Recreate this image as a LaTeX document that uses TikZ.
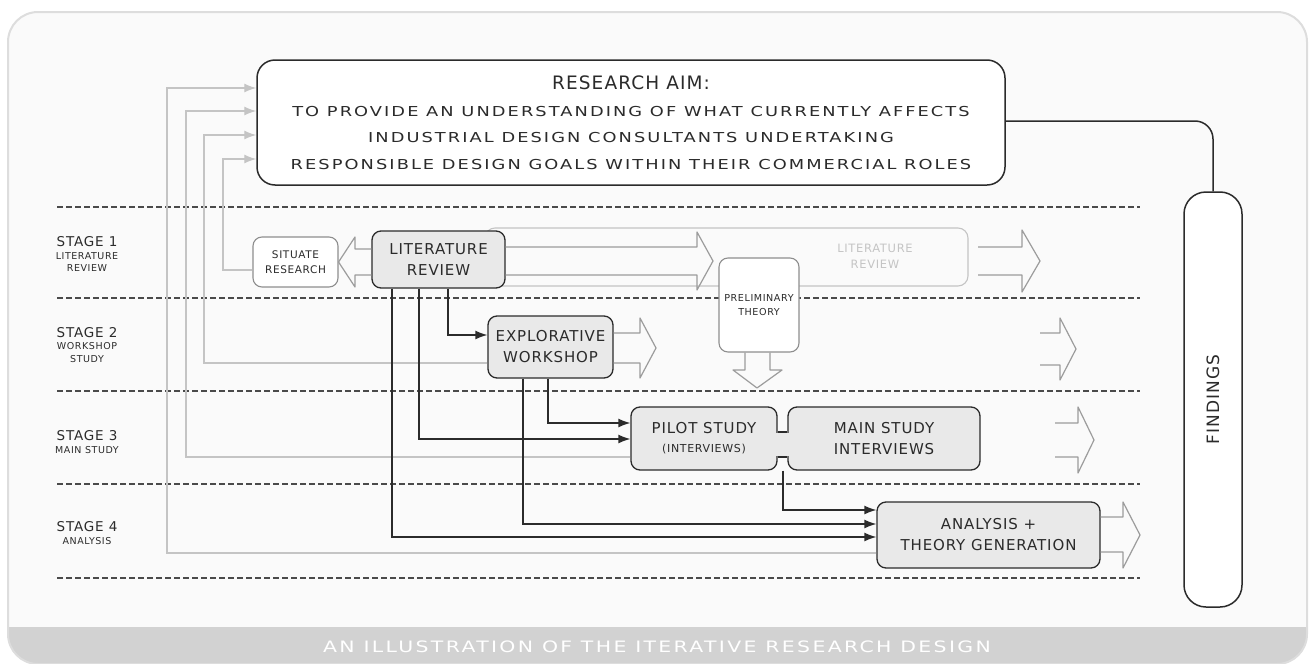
\documentclass[tikz,border=0pt]{standalone}
\usepackage{fontspec}
\newfontfamily\hand{DejaVu Sans}[LetterSpace=6]
\newfontfamily\handwide{DejaVu Sans}[FakeStretch=1.3,LetterSpace=15]
\usetikzlibrary{arrows.meta,positioning}
\definecolor{ink}{HTML}{2B2B2B}
\definecolor{boxgray}{HTML}{E9E9E9}
\definecolor{softline}{HTML}{8E8E8E}
\definecolor{fbgray}{HTML}{C4C4C4}
\definecolor{arrowgray}{HTML}{9C9C9C}
\definecolor{faint}{HTML}{C4C4C4}
\definecolor{sepgray}{HTML}{4A4A4A}
\definecolor{framefill}{HTML}{FAFAFA}
\definecolor{frameline}{HTML}{DDDDDD}
\definecolor{band}{HTML}{D2D2D2}
\newcommand\titlefont{\hand\fontsize{18.5}{26.5}\selectfont}
\newcommand\subfont{\hand\fontsize{9.5}{12}\selectfont}

\begin{document}
\begin{tikzpicture}[x=1pt,y=-1pt,
  box/.style={draw=ink,line width=1.3pt,rounded corners=9pt,fill=boxgray,align=center,text=ink,inner sep=0pt,font=\hand\fontsize{15}{21}\selectfont},
  softbox/.style={draw=softline,line width=1.1pt,rounded corners=9pt,fill=white,align=center,text=ink,inner sep=0pt,font=\hand\fontsize{10.5}{15}\selectfont},
  bigbox/.style={draw=ink,line width=1.5pt,fill=white,align=center,text=ink,inner sep=0pt},
  stagelabel/.style={align=center,text=ink,font=\hand\fontsize{13.5}{12.5}\selectfont},
  link/.style={-{Latex[length=12pt,width=9pt]},draw=ink,line width=1.3pt},
  feedback/.style={-{Latex[length=12pt,width=9pt]},draw=fbgray,line width=1.3pt},
  hollow/.style={draw=arrowgray,line width=1.2pt,line join=round},
  sep/.style={draw=sepgray,line width=1.2pt,dash pattern=on 6pt off 3pt}
]
\useasboundingbox (0,0) rectangle (1315,664);

% frame and caption band
\path[fill=framefill,rounded corners=30pt] (8,12) rectangle (1307,664);
\begin{scope}
  \clip[rounded corners=30pt] (8,12) rectangle (1307,664);
  \fill[band] (0,627) rectangle (1315,664);
\end{scope}
\draw[frameline,line width=2pt,rounded corners=30pt] (8,12) rectangle (1307,664);
\node[text=white,font=\handwide\fontsize{15.7}{17}\selectfont] (caption) at (657,647) {AN ILLUSTRATION OF THE ITERATIVE RESEARCH DESIGN};

% stage separators
\foreach \y in {207,298,391,484,578}
  \draw[sep] (57,\y) -- (1140,\y);

% stage labels
\node[stagelabel] (stage1) at (87,254) {STAGE 1\\\subfont LITERATURE\\\subfont REVIEW};
\node[stagelabel] (stage2) at (87,345) {STAGE 2\\\subfont WORKSHOP\\\subfont STUDY};
\node[stagelabel] (stage3) at (87,442) {STAGE 3\\\subfont MAIN STUDY};
\node[stagelabel] (stage4) at (87,533) {STAGE 4\\\subfont ANALYSIS};

% research aim and findings
\node[bigbox,rounded corners=18pt,minimum width=748pt,minimum height=125pt,font=\handwide\fontsize{13.7}{26.5}\selectfont] (aim) at (631,122.5)
  {\titlefont RESEARCH AIM:\\TO PROVIDE AN UNDERSTANDING OF WHAT CURRENTLY AFFECTS\\INDUSTRIAL DESIGN CONSULTANTS UNDERTAKING\\RESPONSIBLE DESIGN GOALS WITHIN THEIR COMMERCIAL ROLES};
\node[bigbox,rounded corners=22pt,minimum width=58pt,minimum height=415pt] (findings) at (1213,399.5) {};
\node[rotate=90,text=ink,font=\hand\fontsize{17}{20}\selectfont] (findingstxt) at (findings.center) {FINDINGS};

% stage 1
\node[draw=faint,line width=1.1pt,rounded corners=10pt,minimum width=483pt,minimum height=58pt] (litlate) at (726.5,257) {};
\node[text=faint,align=center,font=\hand\fontsize{11.5}{16}\selectfont] (litlatetxt) at (875,256) {LITERATURE\\REVIEW};
\node[softbox,minimum width=85pt,minimum height=50pt] (situate) at (295.5,262) {SITUATE\\RESEARCH};
\node[box,minimum width=133pt,minimum height=57pt] (litrev) at (438.5,259.5) {LITERATURE\\REVIEW};
\node[softbox,minimum width=80pt,minimum height=94pt,font=\hand\fontsize{9.6}{14}\selectfont] (theory) at (759,305) {PRELIMINARY\\THEORY};

% stage 2 to 4
\node[box,minimum width=125pt,minimum height=62pt] (explor) at (550.5,347) {EXPLORATIVE\\WORKSHOP};
\node[box,minimum width=146pt,minimum height=63pt,font=\hand\fontsize{15}{19}\selectfont] (pilot) at (704,438.5) {PILOT STUDY\\\hand\fontsize{11}{15}\selectfont(INTERVIEWS)};
\node[box,minimum width=192pt,minimum height=63pt] (mainst) at (884,438.5) {MAIN STUDY\\INTERVIEWS};
\fill[boxgray] (775.5,432.7) rectangle (789.5,456.3);
\draw[ink,line width=1.3pt] (pilot.east |- 0,432) -- (mainst.west |- 0,432);
\draw[ink,line width=1.3pt] (pilot.east |- 0,457) -- (mainst.west |- 0,457);
\node[box,minimum width=223pt,minimum height=66pt] (analysis) at (988.5,535) {ANALYSIS +\\THEORY GENERATION};

% hollow arrows
\draw[hollow] (litrev.west |- 0,249) -- (355,249) -- (355,237) -- (situate.east) -- (355,287) -- (355,275) -- (litrev.west |- 0,275);
\draw[hollow] (litrev.east |- 0,247) -- (697,247) -- (697,232) -- (713,261) -- (697,290) -- (697,275) -- (litrev.east |- 0,275);
\draw[hollow] (explor.east |- 0,333) -- (640,333) -- (640,318) -- (656,348) -- (640,378) -- (640,363) -- (explor.east |- 0,363);
\draw[hollow] (theory.south -| 745,0) -- (745,370) -- (733,370) -- (757,388) -- (782,370) -- (770,370) -- (theory.south -| 770,0);
\draw[hollow] (analysis.east |- 0,517) -- (1123,517) -- (1123,502) -- (1140,535) -- (1123,568) -- (1123,552) -- (analysis.east |- 0,552);
\draw[hollow] (978,247) -- (1022,247) -- (1022,230) -- (1040,261) -- (1022,292) -- (1022,275) -- (978,275);
\draw[hollow] (1040,333) -- (1060,333) -- (1060,318) -- (1076,349) -- (1060,380) -- (1060,365) -- (1040,365);
\draw[hollow] (1055,423) -- (1078,423) -- (1078,407) -- (1094,440) -- (1078,473) -- (1078,457) -- (1055,457);

% feedback to the research aim
\draw[feedback] (analysis.west |- 0,553) -| (167,88) -- (aim.west |- 0,88);
\draw[feedback] (pilot.west |- 0,457) -| (186,111) -- (aim.west |- 0,111);
\draw[feedback] (explor.west |- 0,363) -| (204,135) -- (aim.west |- 0,135);
\draw[feedback] (situate.west |- 0,270) -| (223,159) -- (aim.west |- 0,159);

% forward links
\draw[link] (litrev.south -| 448,0) |- (explor.west |- 0,335);
\draw[link] (litrev.south -| 419,0) |- (pilot.west |- 0,439);
\draw[link] (litrev.south -| 392,0) |- (analysis.west |- 0,537);
\draw[link] (explor.south -| 548,0) |- (pilot.west |- 0,423);
\draw[link] (explor.south -| 523,0) |- (analysis.west |- 0,524);
\draw[link] (pilot.south -| 783,0) |- (analysis.west |- 0,510);
\draw[ink,line width=1.5pt,rounded corners=18pt] (aim.east |- 0,121) -| (findings.north);
\end{tikzpicture}
\end{document}
